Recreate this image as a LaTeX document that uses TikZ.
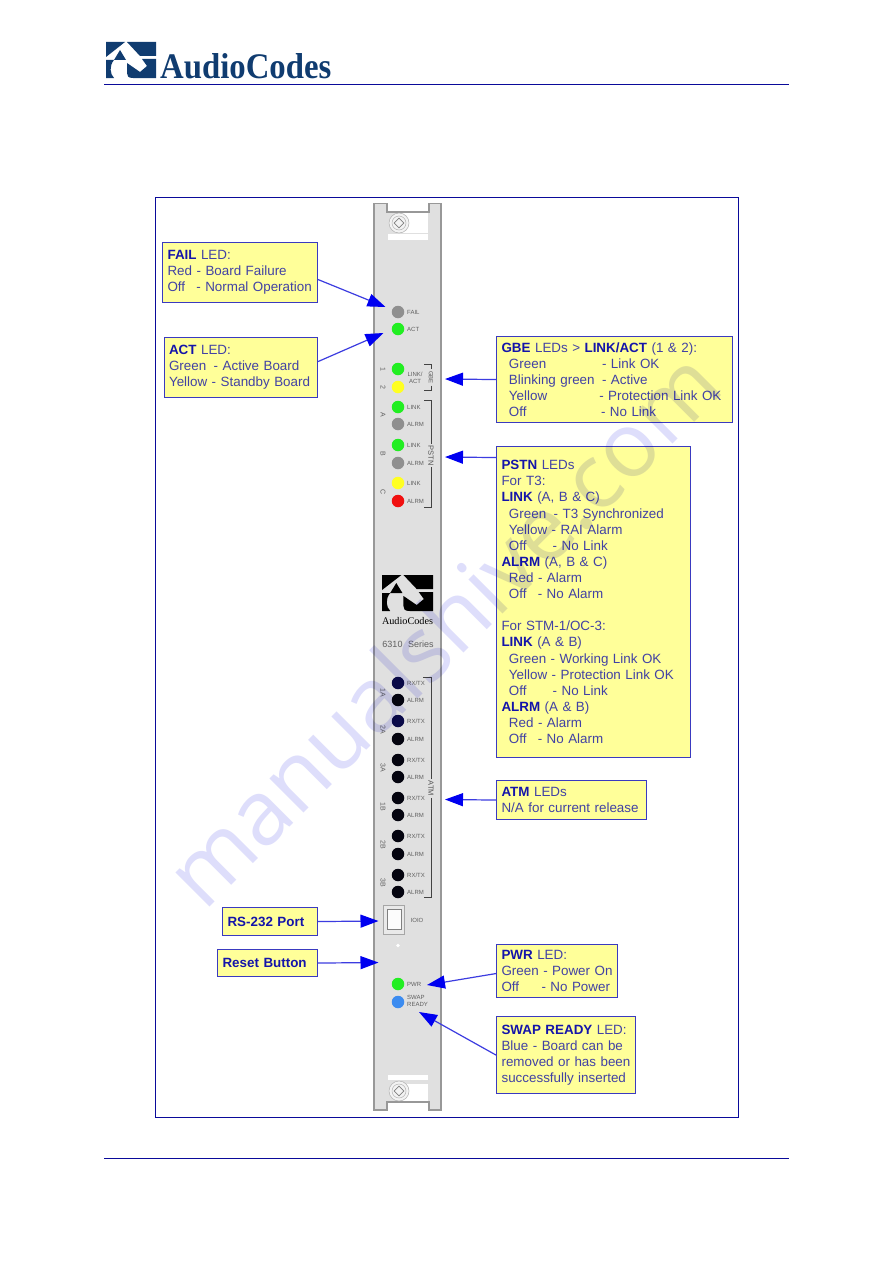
\documentclass[tikz,border=0pt]{standalone}
\usepackage{fontspec}
\setmainfont{Liberation Sans}
\newfontfamily\serifbold{Liberation Serif Bold}
\newfontfamily\serifreg{Liberation Serif}
\newfontfamily\wmfont{Open Sans}
\usetikzlibrary{arrows.meta}
\definecolor{navyline}{HTML}{0A0A9A}
\definecolor{boxfill}{HTML}{FFFF99}
\definecolor{boxedge}{HTML}{3A3AC0}
\definecolor{boldtxt}{HTML}{1414AA}
\definecolor{plaintxt}{HTML}{4242A4}
\definecolor{arrowblue}{HTML}{0000F0}
\definecolor{arrowline}{HTML}{3C3CE0}
\definecolor{panelgray}{HTML}{E0E0E0}
\definecolor{paneledge}{HTML}{989898}
\definecolor{logoblue}{HTML}{103C70}
\definecolor{ledgray}{HTML}{8F8F8F}
\definecolor{ledgreen}{HTML}{22EE22}
\definecolor{ledyellow}{HTML}{FFFF22}
\definecolor{ledred}{HTML}{F01010}
\definecolor{ledblue}{HTML}{3C8CF0}
\definecolor{ledblack}{HTML}{050510}
\definecolor{lednavy}{HTML}{0A0A48}
\definecolor{labelgray}{HTML}{606060}
\definecolor{watermark}{HTML}{DEDEFB}
\newcommand{\hl}[1]{\textbf{\textcolor{boldtxt}{#1}}}
\newcommand{\sk}[1]{\hspace*{#1\dimexpr 3.72pt\relax}}
\newcommand{\drawmark}[1]{%
  \fill[#1] (106,42) -- (125,42) -- (106,57) -- cycle;
  \fill[#1] (120,50) -- (126,60) -- (114,60) -- cycle;
  \fill[#1] (106,60) -- (114,60) .. controls (109,66) and (110,74) .. (114,78) -- (106,78) -- cycle;
  \fill[#1] (127,42) -- (156,42) -- (156,56) -- (140,56) -- cycle;
  \fill[#1] (142,59) -- (156,59) -- (156,78) -- (133,78) .. controls (128,78) and (127,76) .. (127,73) -- (127,63) -- (140,72) -- (147,66) -- cycle;
}
\tikzset{
  infobox/.style={draw=boxedge,fill=boxfill,line width=1.1pt,rectangle,anchor=north west,align=left,
    inner xsep=5pt,inner ysep=0pt,text=plaintxt,font=\fontsize{13.4}{16.12}\selectfont},
  led/.style={circle,minimum size=12.5pt,inner sep=0pt},
  ledlabel/.style={anchor=west,inner sep=0pt,text=labelgray,font=\fontsize{6}{6.6}\selectfont},
  sidelabel/.style={rotate=-90,inner sep=0pt,text=labelgray,font=\fontsize{7}{7}\selectfont},
  grouplabel/.style={rotate=-90,inner xsep=1.5pt,inner ysep=0pt,text=labelgray!90!black,font=\fontsize{7.5}{8}\selectfont},
  bracket/.style={draw=labelgray!70!black,line width=0.9pt},
  callout/.style={draw=arrowline,line width=1.2pt,-{Triangle[length=18pt,width=13pt,color=arrowblue]}},
  screw/.style={draw=gray!60,line width=0.5pt},
}
\begin{document}
\begin{tikzpicture}[x=1pt,y=-1pt]
\useasboundingbox (0,0) rectangle (893,1263);
\fill[white] (0,0) rectangle (893,1263);
% header and footer
\drawmark{logoblue}
\node[anchor=base west,inner sep=0pt,text=logoblue,xscale=0.91] (brand) at (160,78)
  {\fontsize{36}{36}\selectfont\serifbold AudioCodes};
\draw[navyline,line width=1pt] (104,84) -- (789,84);
\draw[navyline,line width=1pt] (104,1158.5) -- (789,1158.5);
% frame
\draw[navyline,line width=1pt] (155,197) rectangle (738,1117);
% panel
\draw[fill=panelgray,draw=paneledge,line width=1.3pt]
  (374,203.5) -- (387,203.5) -- (387,212) -- (429,212) -- (429,203.5) -- (441,203.5)
  -- (441,1110) -- (429,1110) -- (429,1102) -- (387,1102) -- (387,1110) -- (374,1110) -- cycle;
% top hardware
\fill[white] (399,212.8) rectangle (428.3,233);
\fill[white] (388,234) rectangle (428,239.5);
\draw[screw,fill=panelgray!40!white] (399,223) circle[radius=10];
\draw[screw] (399,223) circle[radius=7];
\draw[draw=gray,line width=0.7pt,rotate around={45:(399,223)}] (395.5,219.5) rectangle (402.5,226.5);
% bottom hardware
\fill[white] (399,1084) rectangle (428.3,1101.2);
\fill[white] (388,1074.5) rectangle (428,1080);
\draw[screw,fill=panelgray!40!white] (399,1091) circle[radius=10];
\draw[screw] (399,1091) circle[radius=7];
\draw[draw=gray,line width=0.7pt,rotate around={45:(399,1091)}] (395.5,1087.5) rectangle (402.5,1094.5);
% LEDs
\foreach \nm/\yy/\cc in {fail/312/ledgray,act/329/ledgreen,gbea/369/ledgreen,gbeb/387/ledyellow,
  alink/407/ledgreen,aalrm/424/ledgray,blink/445/ledgreen,balrm/463/ledgray,clink/483/ledyellow,calrm/501/ledred,
  rxa/683/lednavy,ala/700/ledblack,rxb/721/lednavy,alb/739/ledblack,rxc/760/ledblack,alc/777/ledblack,
  rxd/798/ledblack,ald/815/ledblack,rxe/836/ledblack,ale/854/ledblack,rxf/875/ledblack,alf/892/ledblack,
  pwr/984/ledgreen,swap/1002/ledblue}
  {\node[led,fill=\cc] (led\nm) at (398,\yy) {};}
% LED labels
\foreach \nm/\yy/\tx in {a/312.5/FAIL,b/329/ACT,c/407/LINK,d/424.5/ALRM,e/445.5/LINK,f/463/ALRM,g/483.5/LINK,h/501/ALRM,
  i/683/{RX/TX},j/700.5/ALRM,k/721/{RX/TX},l/739/ALRM,m/760/{RX/TX},n/777/ALRM,o/798.5/{RX/TX},p/815.5/ALRM,q/836.5/{RX/TX},r/854/ALRM,s/875/{RX/TX},t/892/ALRM,u/984/PWR}
  {\node[ledlabel] (lab\nm) at (407,\yy) {\tx};}
\node[inner sep=0pt,align=center,text=labelgray,font=\fontsize{6}{6.6}\selectfont] (labgbe) at (415,378) {LINK/\\ACT};
\node[ledlabel,align=left] (labswap) at (407,1001) {SWAP\\READY};
\foreach \nm/\yy/\tx in {p/369/1,q/387/2,r/415/A,s/454/B,t/492/C,u/693/1A,v/730/2A,w/768/3A,x/807/1B,y/845/2B,z/883/3B}
  {\node[sidelabel] (side\nm) at (383,\yy) {\tx};}
% group brackets
\node[grouplabel] (glbe) at (431,377.5) {\fontsize{6}{6}\selectfont GBE};
\node[grouplabel] (glps) at (431,455.5) {PSTN};
\node[grouplabel] (glat) at (431,788.5) {ATM};
\draw[bracket] (424,364.5) -- (431,364.5) -- (glbe.west);
\draw[bracket] (glbe.east) -- (431,390.5) -- (424,390.5);
\draw[bracket] (424,400.5) -- (431,400.5) -- (glps.west);
\draw[bracket] (glps.east) -- (431,507.5) -- (424,507.5);
\draw[bracket] (423,677) -- (431,677) -- (glat.west);
\draw[bracket] (glat.east) -- (431,897) -- (424,897);
% panel logo
\begin{scope}[shift={(273.9,533)},x=1.02pt]
\drawmark{black}
\end{scope}
\node[inner sep=0pt,text=black,font=\fontsize{10.2}{11}\selectfont\serifreg] (panelbrand) at (407.5,621) {AudioCodes};
\node[inner sep=0pt,text=labelgray,font=\fontsize{9}{11}\selectfont] (series) at (408,644) {6310\hspace{3pt} Series};
% serial port
\draw[draw=gray!70,fill=panelgray!70!white,line width=0.9pt] (383,905) rectangle (404,934);
\draw[draw=gray,fill=white!90!panelgray,line width=0.9pt] (387,909.5) rectangle (401,929);
\node[inner sep=0pt,text=labelgray,font=\fontsize{6}{6}\selectfont] (ioio) at (417,920) {IOIO};
\fill[white] (398,945.5) circle[radius=1.8];
% callout boxes
\node[infobox,minimum width=155pt,minimum height=60pt,text width=145pt] (bfail) at (162,242)
  {\hl{FAIL} LED:\\Red - Board Failure\\Off\sk{3}- Normal Operation};
\node[infobox,minimum width=153.5pt,minimum height=60pt,text width=143.5pt] (bact) at (163.5,337)
  {\hl{ACT} LED:\\Green\sk{2}- Active Board\\Yellow - Standby Board};
\node[infobox,minimum width=236pt,minimum height=86pt,text width=226pt] (bgbe) at (496,336)
  {\hl{GBE} LEDs > \hl{LINK/ACT} (1 \& 2):\\
  \sk{2}Green\sk{15}- Link OK\\
  \sk{2}Blinking green\sk{2}- Active\\
  \sk{2}Yellow\sk{14}- Protection Link OK\\
  \sk{2}Off\sk{20}- No Link};
\node[infobox,minimum width=194pt,minimum height=311pt,text width=184pt] (bpstn) at (496,446)
  {\hl{PSTN} LEDs\\For T3:\\\hl{LINK} (A, B \& C)\\
  \sk{2}Green\sk{2}- T3 Synchronized\\
  \sk{2}Yellow - RAI Alarm\\
  \sk{2}Off\sk{7}- No Link\\
  \hl{ALRM} (A, B \& C)\\
  \sk{2}Red - Alarm\\
  \sk{2}Off\sk{3}- No Alarm\\[16.12pt]
  For STM-1/OC-3:\\\hl{LINK} (A \& B)\\
  \sk{2}Green - Working Link OK\\
  \sk{2}Yellow - Protection Link OK\\
  \sk{2}Off\sk{7}- No Link\\
  \hl{ALRM} (A \& B)\\
  \sk{2}Red - Alarm\\
  \sk{2}Off\sk{3}- No Alarm};
\node[infobox,minimum width=150pt,minimum height=39pt,text width=140pt] (batm) at (496,780)
  {\hl{ATM} LEDs\\N/A for current release};
\node[infobox,minimum width=121pt,minimum height=53pt,text width=111pt] (bpwr) at (496,944)
  {\hl{PWR} LED:\\Green - Power On\\Off\sk{6}- No Power};
\node[infobox,minimum width=139pt,minimum height=77pt,text width=129pt] (bswap) at (496,1016)
  {\hl{SWAP READY} LED:\\Blue - Board can be\\removed or has been\\successfully inserted};
\node[infobox,minimum width=95pt,minimum height=28pt,text width=85pt] (brs) at (222,907)
  {\hl{RS-232 Port}};
\node[infobox,minimum width=100pt,minimum height=27pt,text width=90pt] (breset) at (217,949)
  {\hl{Reset Button}};
% connectors
\coordinate (tfail) at (385.5,307);
\coordinate (tact) at (383.5,333);
\coordinate (tgbe) at (445,379);
\coordinate (tpstn) at (445,457);
\coordinate (tatm) at (445,799.5);
\coordinate (trs) at (378.5,921);
\coordinate (treset) at (378.5,962.5);
\coordinate (tpwr) at (427,985);
\coordinate (tswap) at (419,1012);
\draw[callout] ([yshift=-7pt]bfail.east) -- (tfail);
\draw[callout] ([yshift=6pt]bact.east) -- (tact);
\draw[callout] (bgbe.west) -- (tgbe);
\draw[callout] ([yshift=144.5pt]bpstn.west) -- (tpstn);
\draw[callout] (batm.west) -- (tatm);
\draw[callout] (brs.east) -- (trs);
\draw[callout] (breset.east) -- (treset);
\draw[callout] ([yshift=-2.5pt]bpwr.west) -- (tpwr);
\draw[callout] (bswap.west) -- (tswap);
% watermark
\begin{scope}[blend mode=multiply]
\node[anchor=base west,inner sep=0pt,rotate=45,text=watermark,font=\fontsize{90}{90}\selectfont\wmfont] (wm) at (204,913) {manualshive.com};
\end{scope}
\end{tikzpicture}
\end{document}
